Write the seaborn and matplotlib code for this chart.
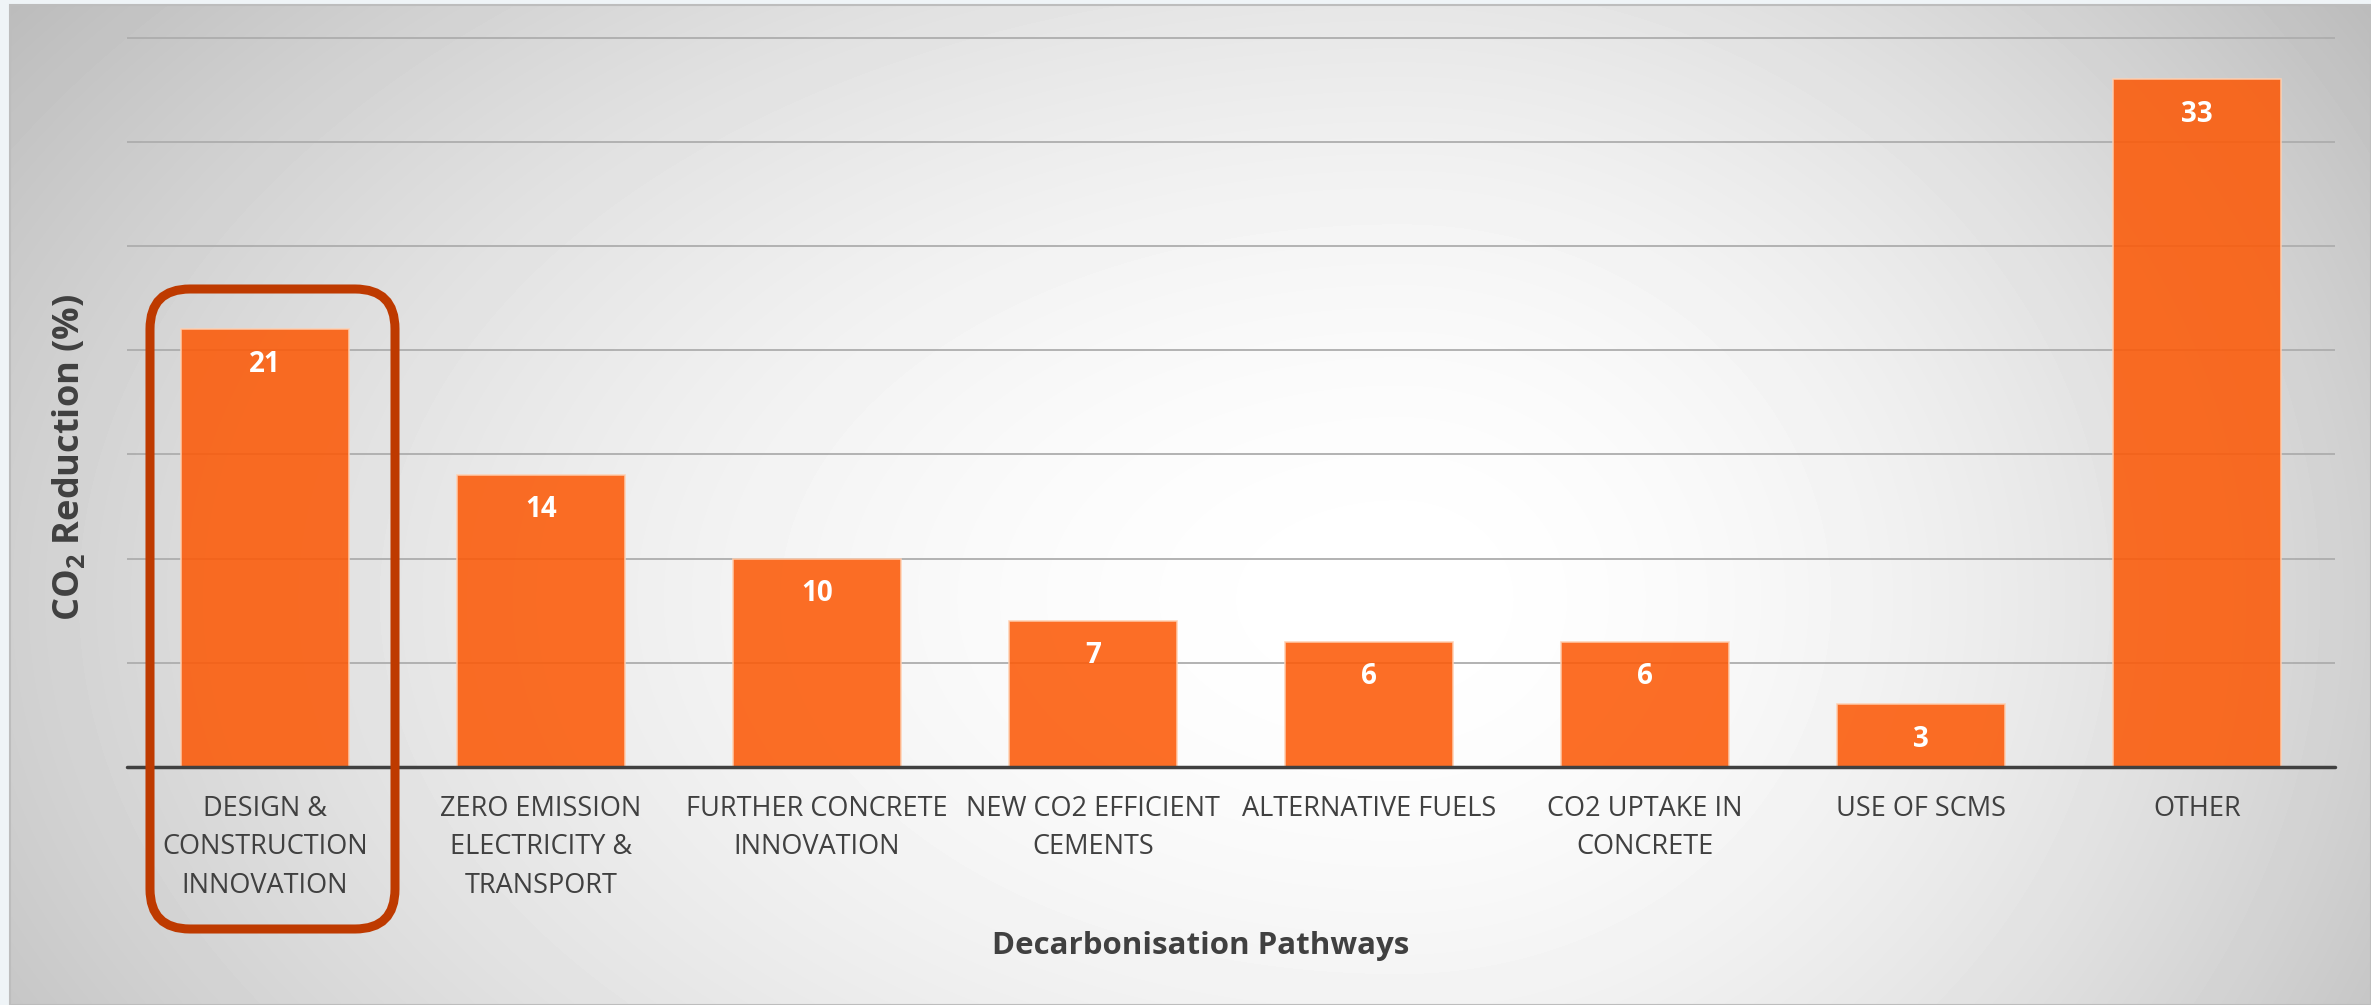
import numpy as np
import pandas as pd
import matplotlib
matplotlib.use("Agg")
import matplotlib.pyplot as plt
from matplotlib.patches import FancyBboxPatch, Rectangle
import seaborn as sns

# ---- data ----
categories = [
    "DESIGN &\nCONSTRUCTION\nINNOVATION",
    "ZERO EMISSION\nELECTRICITY &\nTRANSPORT",
    "FURTHER CONCRETE\nINNOVATION",
    "NEW CO2 EFFICIENT\nCEMENTS",
    "ALTERNATIVE FUELS",
    "CO2 UPTAKE IN\nCONCRETE",
    "USE OF SCMS",
    "OTHER",
]
values = [21, 14, 10, 7, 6, 6, 3, 33]
y_ticks = [0, 5, 10, 15, 20, 25, 30, 35]
x_title = "Decarbonisation Pathways"
y_title = r"CO$_{\mathbf{2}}$ Reduction (%)"

sns.set_theme(style="white")
plt.rcParams["font.family"] = ["Open Sans", "DejaVu Sans"]
plt.rcParams["mathtext.fontset"] = "custom"
plt.rcParams["mathtext.rm"] = "Open Sans"
plt.rcParams["mathtext.bf"] = "Open Sans:bold"

W, H, DPI = 2371, 1005, 100
fig = plt.figure(figsize=(W / DPI, H / DPI), dpi=DPI, facecolor="#eff4f7")

# background gradient panel
bx0, by0 = 10, 5  # pixels from left / top
bg_ax = fig.add_axes([bx0 / W, 0, (W - bx0) / W, (H - by0) / H], zorder=-5)
gw, gh = 600, 260
xs = np.linspace(bx0, W, gw)
ys = np.linspace(by0, H, gh)
X, Y = np.meshgrid(xs, ys)
cx, cy = 1400.0, 600.0
rx = np.where(X < cx, 1650.0, 1150.0)
ry = 1000.0
r = np.sqrt(((X - cx) / rx) ** 2 + ((Y - cy) / ry) ** 2)
g = 1.0 - 0.25 * np.clip(r, 0, 1.15) ** 1.8
bg_ax.imshow(g, cmap="gray", vmin=0, vmax=1, aspect="auto", interpolation="bilinear")
bg_ax.set_axis_off()
fig.add_artist(Rectangle((bx0 / W, 0), (W - bx0) / W, (H - by0) / H, transform=fig.transFigure,
                         fill=False, ec="#bdbdbd", lw=1.5, zorder=-4))

# main axes
left, right = 127 / W, 2335 / W
bottom, top = 1 - 767 / H, 1 - 36 / H
ax = fig.add_axes([left, bottom, right - left, top - bottom])
ax.set_facecolor("none")

df = pd.DataFrame({"cat": categories, "val": values})
sns.barplot(data=df, x="cat", y="val", color="#fc5a08", saturation=1, width=0.61,
            alpha=0.88, edgecolor="#ffcfb0", linewidth=1.2, ax=ax, zorder=2)

ax.set_xlim(-0.5, len(categories) - 0.5)
ax.set_ylim(0, 35.08)
ax.set_yticks(y_ticks)
ax.set_yticklabels([])
ax.yaxis.grid(True, color="#adadad", linewidth=1.3)
ax.xaxis.grid(False)
ax.set_axisbelow(True)
for s in ax.spines.values():
    s.set_visible(False)
ax.axhline(0, color="#404040", lw=2.5, zorder=5, clip_on=False)

ax.tick_params(axis="x", length=0, pad=20, labelsize=19.5, labelcolor="#404040")
ax.tick_params(axis="y", length=0)
for lab in ax.get_xticklabels():
    lab.set_multialignment("center")
    lab.set_linespacing(1.5)

for i, v in enumerate(values):
    ax.annotate(f"{v}", xy=(i, v), xytext=(0, -25), textcoords="offset points",
                ha="center", va="center", color="white", fontsize=20,
                fontweight="bold", zorder=6)

ax.set_xlabel(x_title, fontsize=22.5, fontweight="bold", color="#404040")
ax.xaxis.set_label_coords(0.4864, -0.245)
ax.xaxis.label.set_va("center")
ax.set_ylabel(y_title, fontsize=26, fontweight="bold", color="#404040")
ax.yaxis.set_label_coords(-0.026, 0.424)
ax.yaxis.label.set_va("center")

# highlight box around first category
box = FancyBboxPatch((1.50, 0.76), 2.45, 6.40,
                     boxstyle="round,pad=0,rounding_size=0.4",
                     transform=fig.dpi_scale_trans, fill=False,
                     ec="#be3a00", lw=6.5, zorder=10)
fig.add_artist(box)

fig.savefig("out.png", dpi=DPI, facecolor=fig.get_facecolor())
